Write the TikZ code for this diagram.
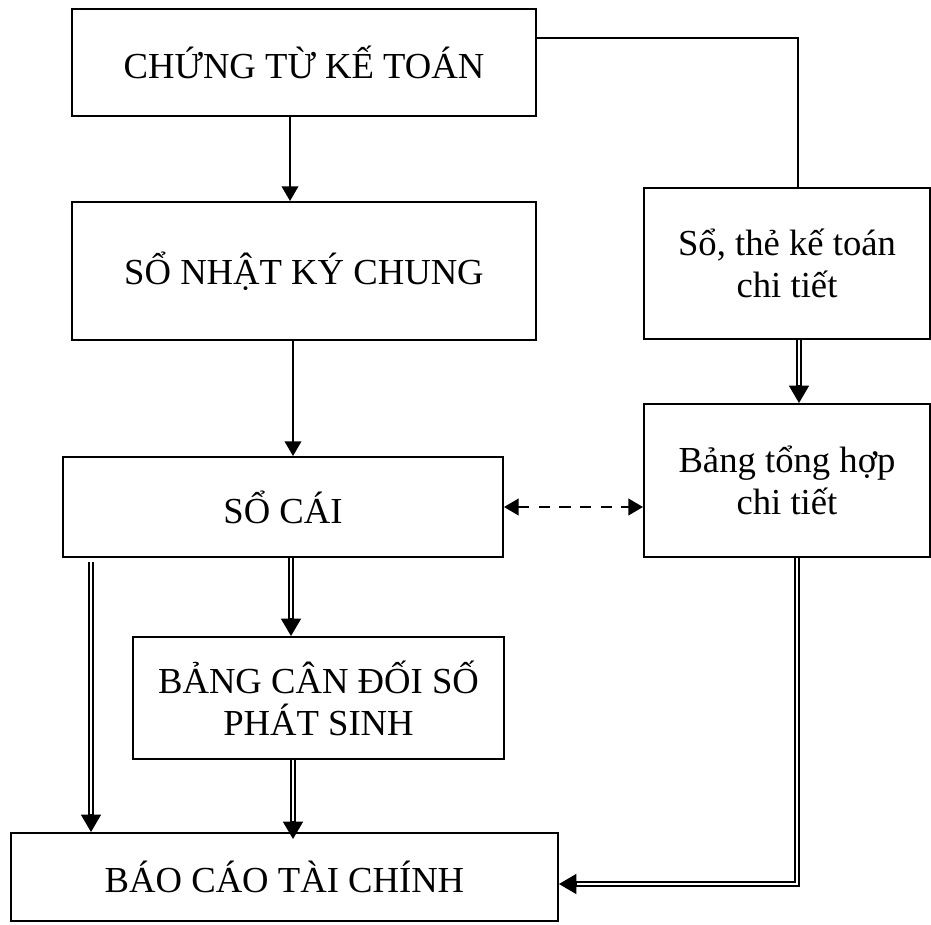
\documentclass[tikz,border=0pt]{standalone}
\usepackage{fontspec}
\setmainfont{Liberation Serif}
\usetikzlibrary{arrows.meta,calc}
\begin{document}
\begin{tikzpicture}[x=0.75pt,y=-0.75pt,
  box/.style={draw, line width=1.5pt, inner sep=0pt, font=\fontsize{27.5}{31.5}\selectfont, align=center},
  sarr/.style={line width=1.1pt, -{Triangle[width=12.5pt,length=11pt]}},
  dbl/.style={double, double distance=1.9pt, line width=1.1pt},
  dtip/.style={line width=1pt, -{Triangle[width=15pt,length=13pt]}},
  dasharr/.style={line width=1.6pt, dash pattern=on 8.5pt off 7pt,
    {Triangle[width=12.5pt,length=11pt]}-{Triangle[width=12.5pt,length=11pt]}},
  plain/.style={line width=1.5pt}
]
\useasboundingbox (0,0) rectangle (931,924);

\node[box, minimum width=348pt, minimum height=80.25pt] (ct) at (304,62.5) {CHỨNG TỪ KẾ TOÁN};
\node[box, minimum width=348pt, minimum height=103.5pt] (nkc) at (304,271) {SỔ NHẬT KÝ CHUNG};
\node[box, minimum width=330pt, minimum height=75pt] (socai) at (283,507) {SỔ CÁI};
\node[box, minimum width=278.25pt, minimum height=91.5pt] (bcd) at (318.5,698) {BẢNG CÂN ĐỐI SỐ\\PHÁT SINH};
\node[box, minimum width=410.25pt, minimum height=66pt] (bctc) at (284.5,877) {BÁO CÁO TÀI CHÍNH};
\node[box, minimum width=214.5pt, minimum height=113.25pt] (sct) at (787,263.5) {Sổ, thẻ kế toán\\chi tiết};
\node[box, minimum width=214.5pt, minimum height=114.75pt] (bth) at (787,480.5) {Bảng tổng hợp\\chi tiết};

% CHỨNG TỪ -> Sổ, thẻ (plain line)
\draw[plain] ($(ct.north east)+(0,30)$) -| ($(sct.north)+(11,0)$);

% single arrows
\draw[sarr] ($(ct.south)+(-14,0)$) -- ($(nkc.north)+(-14,0)$);
\draw[sarr] ($(nkc.south)+(-11,0)$) -- ($(socai.north)+(10,0)$);

% Sổ thẻ -> Bảng tổng hợp (double)
\draw[dbl, shorten >=8pt] ($(sct.south)+(12,0)$) -- ($(bth.north)+(12,0)$);
\draw[dtip] ($(bth.north)+(12,-18)$) -- ($(bth.north)+(12,0)$);

% dashed two-way
\draw[dasharr] (socai.east) -- (socai.east -| bth.west);

% SỔ CÁI -> BẢNG CÂN ĐỐI
\draw[dbl, shorten >=8pt] ($(socai.south)+(8,0)$) -- ($(bcd.north)+(-27.5,0)$);
\draw[dtip] ($(bcd.north)+(-27.5,-18)$) -- ($(bcd.north)+(-27.5,0)$);

% SỔ CÁI -> BÁO CÁO (left)
\draw[dbl, shorten >=8pt] ($(socai.south west)+(29,4)$) -- ($(bctc.north west)+(81,0)$);
\draw[dtip] ($(bctc.north west)+(81,-18)$) -- ($(bctc.north west)+(81,0)$);

% BẢNG CÂN ĐỐI -> BÁO CÁO
\draw[dbl, shorten >=8pt] ($(bcd.south)+(-25.5,0)$) -- ($(bctc.north)+(8.5,7)$);
\draw[dtip] ($(bctc.north)+(8.5,-11)$) -- ($(bctc.north)+(8.5,7)$);

% Bảng tổng hợp -> BÁO CÁO
\draw[dbl, shorten >=8pt] ($(bth.south)+(10,0)$) |- ($(bctc.east)+(0,7)$);
\draw[dtip] ($(bctc.east)+(18,7)$) -- ($(bctc.east)+(0,7)$);
\end{tikzpicture}
\end{document}
